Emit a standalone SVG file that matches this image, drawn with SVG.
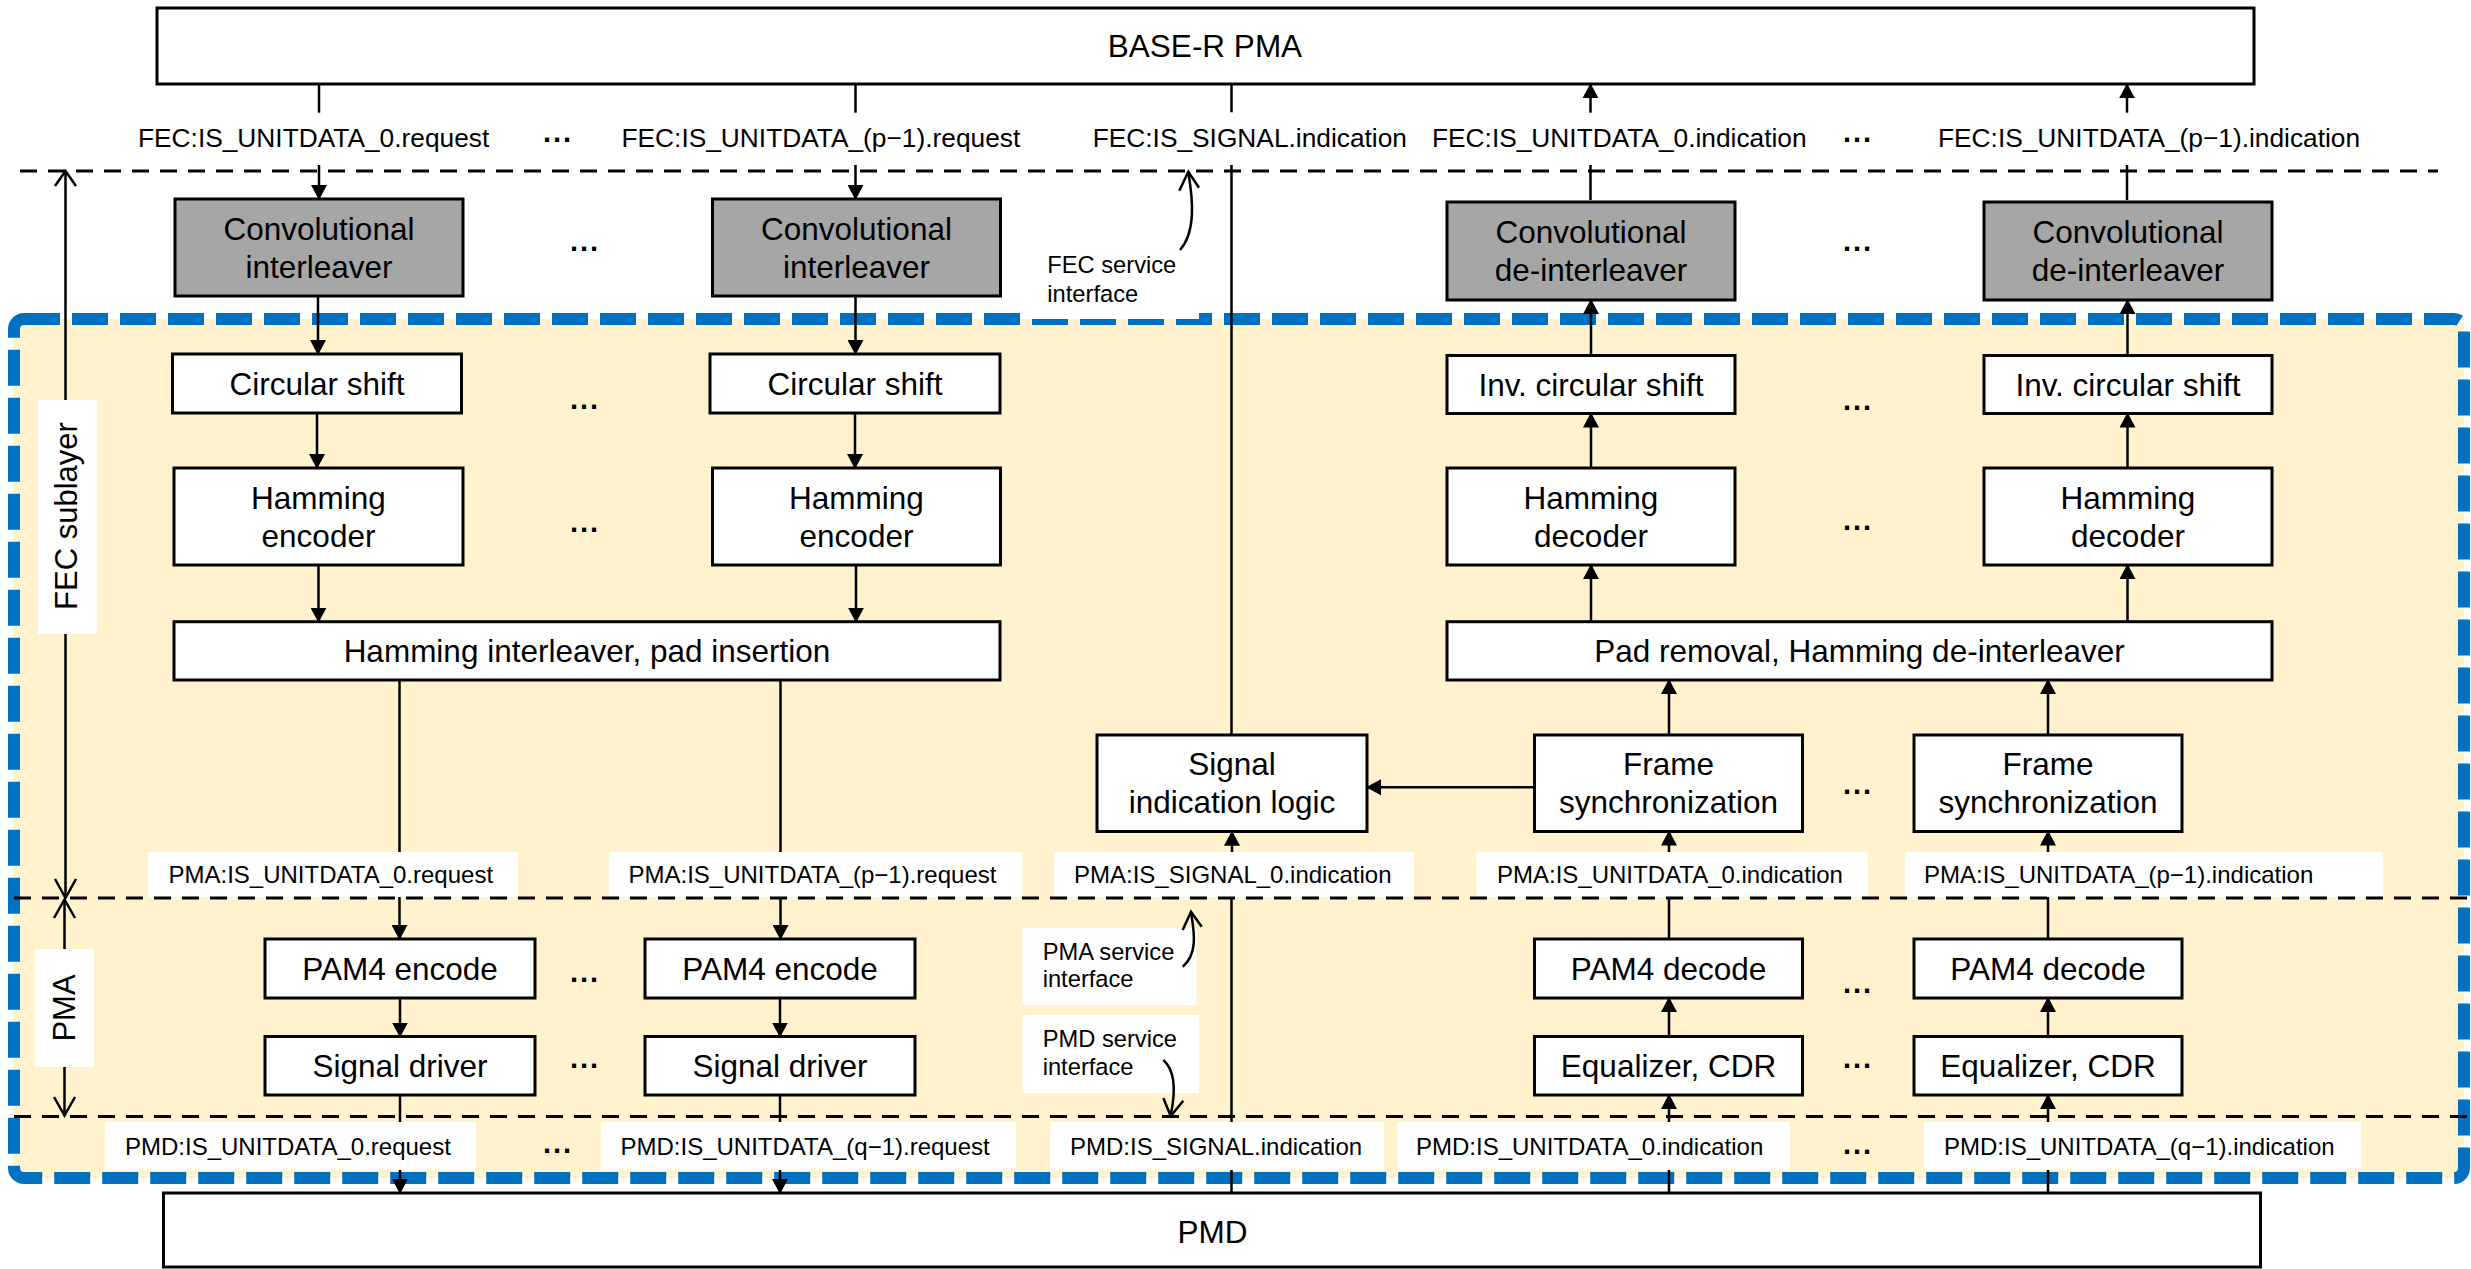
<svg xmlns="http://www.w3.org/2000/svg" width="2471" height="1269" viewBox="0 0 2471 1269">
<defs>
<style>
.box{fill:#fff;stroke:#000;stroke-width:3}
.gbox{fill:#a6a6a6;stroke:#000;stroke-width:3}
text{font-family:"Liberation Sans",Arial,sans-serif;fill:#000}
.t{font-size:31.5px;text-anchor:middle}
.lf{font-size:26.3px}
.lp{font-size:24px}
.si{font-size:23.7px}
.dots{font-size:29px;font-weight:bold;text-anchor:middle;letter-spacing:2px}
.dash{stroke:#000;stroke-width:2.8;stroke-dasharray:17 11;fill:none}
.ln{stroke:#000;stroke-width:2.5;fill:none}
.ar{stroke:#000;stroke-width:2.5;fill:none;marker-end:url(#ah)}
.wl{fill:#fff}
.open{stroke:#000;stroke-width:2.5;fill:none;stroke-linejoin:miter}
</style>
<marker id="ah" markerUnits="userSpaceOnUse" markerWidth="15" markerHeight="16" viewBox="0 0 15 16" refX="14" refY="8" orient="auto">
<path d="M0,0 L15,8 L0,16 z" fill="#000"/>
</marker>
</defs>
<rect width="2471" height="1269" fill="#fff"/>

<!-- blue dashed region -->
<g id="region">
<rect x="14" y="319" width="2450" height="859" rx="10" fill="#fff2cc"/>
<rect x="14" y="319" width="2450" height="859" rx="10" fill="none" stroke="#0070c0" stroke-width="12" stroke-dasharray="36 12"/>
</g>

<!-- white label backgrounds -->
<g id="label-bgs">
<rect class="wl" x="1028" y="250" width="171" height="69"/>
<rect class="wl" x="38" y="400" width="59" height="234"/>
<rect class="wl" x="35" y="949" width="59" height="118"/>
<rect class="wl" x="1022.5" y="928" width="174" height="77"/>
<rect class="wl" x="1022.5" y="1015" width="176.5" height="78"/>
<rect class="wl" x="148" y="852" width="370" height="45"/>
<rect class="wl" x="609" y="852" width="413.5" height="45"/>
<rect class="wl" x="1054" y="852" width="360" height="45"/>
<rect class="wl" x="1476.5" y="852" width="391" height="45"/>
<rect class="wl" x="1905" y="852" width="478" height="45"/>
<rect class="wl" x="105" y="1122" width="371" height="48"/>
<rect class="wl" x="601" y="1122" width="415" height="48"/>
<rect class="wl" x="1050" y="1122" width="334" height="48"/>
<rect class="wl" x="1397.5" y="1122" width="392.5" height="48"/>
<rect class="wl" x="1924" y="1122" width="437" height="48"/>
</g>

<!-- service interface dashed boundaries -->
<g id="boundaries">
<line class="dash" x1="20" y1="171" x2="2438" y2="171"/>
<line class="dash" x1="14" y1="898" x2="2470" y2="898"/>
<line class="dash" x1="14" y1="1116.5" x2="2470" y2="1116.5"/>
</g>

<!-- connectors -->
<g id="connectors">
<path class="ln" d="M319,84.3 V112.7"/>
<path class="ar" d="M319,165 V199"/>
<path class="ar" d="M318,296 V354"/>
<path class="ar" d="M317,413 V468"/>
<path class="ar" d="M318.5,565 V621.7"/>
<path class="ln" d="M855.5,84.3 V112.7"/>
<path class="ar" d="M855.5,165 V199"/>
<path class="ar" d="M855.5,296 V354"/>
<path class="ar" d="M855,413 V468"/>
<path class="ar" d="M856,565 V621.7"/>
<path class="ln" d="M399.5,680 V852"/>
<path class="ar" d="M399.5,897 V939"/>
<path class="ln" d="M780.5,680 V852"/>
<path class="ar" d="M780.5,897 V939"/>
<path class="ar" d="M400,998 V1036.5"/>
<path class="ar" d="M780,998 V1036.5"/>
<path class="ln" d="M400,1095 V1122"/>
<path class="ar" d="M400,1170 V1193"/>
<path class="ln" d="M780,1095 V1122"/>
<path class="ar" d="M780,1170 V1193"/>
<path class="ln" d="M1590.5,200 V165"/>
<path class="ar" d="M1590.5,112.7 V84.3"/>
<path class="ar" d="M1591,355.5 V300"/>
<path class="ar" d="M1591,468 V413.5"/>
<path class="ar" d="M1591,621.7 V565"/>
<path class="ln" d="M2127,200 V165"/>
<path class="ar" d="M2127,112.7 V84.3"/>
<path class="ar" d="M2127.5,355.5 V300"/>
<path class="ar" d="M2127.5,468 V413.5"/>
<path class="ar" d="M2127.5,621.7 V565"/>
<path class="ar" d="M1669,735 V680"/>
<path class="ar" d="M2048,735 V680"/>
<path class="ar" d="M1669,852 V831.5"/>
<path class="ar" d="M2048,852 V831.5"/>
<path class="ln" d="M1669,939 V897"/>
<path class="ln" d="M2048,939 V897"/>
<path class="ar" d="M1669,1036.5 V998"/>
<path class="ar" d="M2048,1036.5 V998"/>
<path class="ln" d="M1669,1193 V1170"/>
<path class="ar" d="M1669,1122 V1095"/>
<path class="ln" d="M2048,1193 V1170"/>
<path class="ar" d="M2048,1122 V1095"/>
<path class="ln" d="M1231.5,84.3 V112.3"/>
<path class="ln" d="M1231.5,165 V735"/>
<path class="ar" d="M1232,852 V831.7"/>
<path class="ln" d="M1231.5,897 V1122"/>
<path class="ln" d="M1231.5,1170 V1193"/>
<path class="ar" d="M1534.5,787.3 H1367"/>
<path class="ln" d="M65.5,171 V400"/>
<path class="ln" d="M65.5,634 V898"/>
<path class="open" d="M55,186 L65.5,171 L76,186"/>
<path class="open" d="M55,879 L65.5,898 L76,879"/>
<path class="ln" d="M64.5,899 V949"/>
<path class="ln" d="M64.5,1067 V1116"/>
<path class="open" d="M54,918 L64.5,899.5 L75,918"/>
<path class="open" d="M54,1097 L64.5,1115.5 L75,1097"/>
<path class="ln" d="M1180,250 C1196,232 1193,200 1188.3,172.5"/>
<path class="open" d="M1179.3,190.7 L1188.3,171.7 L1199,187.7"/>
<path class="ln" d="M1182.7,966.7 C1197,955 1195,935 1191,912.5"/>
<path class="open" d="M1182.7,930 L1191,911.7 L1201.7,926.7"/>
<path class="ln" d="M1163.3,1060 C1177,1072 1175,1095 1170.7,1115"/>
<path class="open" d="M1163.3,1098 L1170.7,1116 L1183.3,1100.7"/>
</g>

<!-- nodes -->
<g id="base-r-pma"><rect class="box" x="157" y="8" width="2097" height="76"/><text class="t" x="1205" y="57">BASE-R PMA</text></g>
<g id="pmd"><rect class="box" x="163.5" y="1193" width="2097" height="74"/><text class="t" x="1212.5" y="1243">PMD</text></g>

<g id="conv-int-0"><rect class="gbox" x="175" y="199" width="288" height="97"/><text class="t" x="319" y="240">Convolutional</text><text class="t" x="319" y="278">interleaver</text></g>
<g id="conv-int-p1"><rect class="gbox" x="712.5" y="199" width="288" height="97"/><text class="t" x="856.5" y="240">Convolutional</text><text class="t" x="856.5" y="278">interleaver</text></g>
<g id="conv-deint-0"><rect class="gbox" x="1447" y="202" width="288" height="98"/><text class="t" x="1591" y="243">Convolutional</text><text class="t" x="1591" y="281">de-interleaver</text></g>
<g id="conv-deint-p1"><rect class="gbox" x="1984" y="202" width="288" height="98"/><text class="t" x="2128" y="243">Convolutional</text><text class="t" x="2128" y="281">de-interleaver</text></g>

<g id="circ-0"><rect class="box" x="172.5" y="354" width="289" height="59"/><text class="t" x="317" y="395">Circular shift</text></g>
<g id="circ-p1"><rect class="box" x="710" y="354" width="290" height="59"/><text class="t" x="855" y="395">Circular shift</text></g>
<g id="invcirc-0"><rect class="box" x="1447" y="355.5" width="288" height="58"/><text class="t" x="1591" y="396">Inv. circular shift</text></g>
<g id="invcirc-p1"><rect class="box" x="1984" y="355.5" width="288" height="58"/><text class="t" x="2128" y="396">Inv. circular shift</text></g>

<g id="hamenc-0"><rect class="box" x="174" y="468" width="289" height="97"/><text class="t" x="318.5" y="509">Hamming</text><text class="t" x="318.5" y="547">encoder</text></g>
<g id="hamenc-p1"><rect class="box" x="712.5" y="468" width="288" height="97"/><text class="t" x="856.5" y="509">Hamming</text><text class="t" x="856.5" y="547">encoder</text></g>
<g id="hamdec-0"><rect class="box" x="1447" y="468" width="288" height="97"/><text class="t" x="1591" y="509">Hamming</text><text class="t" x="1591" y="547">decoder</text></g>
<g id="hamdec-p1"><rect class="box" x="1984" y="468" width="288" height="97"/><text class="t" x="2128" y="509">Hamming</text><text class="t" x="2128" y="547">decoder</text></g>

<g id="ham-interleaver"><rect class="box" x="174" y="621.7" width="826" height="58.3"/><text class="t" x="587" y="662">Hamming interleaver, pad insertion</text></g>
<g id="pad-removal"><rect class="box" x="1447" y="621.7" width="825" height="58.3"/><text class="t" x="1859.5" y="662">Pad removal, Hamming de-interleaver</text></g>

<g id="signal-logic"><rect class="box" x="1097" y="735" width="270" height="96.5"/><text class="t" x="1232" y="775">Signal</text><text class="t" x="1232" y="813">indication logic</text></g>
<g id="framesync-0"><rect class="box" x="1534.5" y="735" width="268" height="96.5"/><text class="t" x="1668.5" y="775">Frame</text><text class="t" x="1668.5" y="813">synchronization</text></g>
<g id="framesync-p1"><rect class="box" x="1914" y="735" width="268" height="96.5"/><text class="t" x="2048" y="775">Frame</text><text class="t" x="2048" y="813">synchronization</text></g>

<g id="pam4enc-0"><rect class="box" x="265" y="939" width="270" height="59"/><text class="t" x="400" y="980">PAM4 encode</text></g>
<g id="pam4enc-q1"><rect class="box" x="645" y="939" width="270" height="59"/><text class="t" x="780" y="980">PAM4 encode</text></g>
<g id="pam4dec-0"><rect class="box" x="1534.5" y="939" width="268" height="59"/><text class="t" x="1668.5" y="980">PAM4 decode</text></g>
<g id="pam4dec-q1"><rect class="box" x="1914" y="939" width="268" height="59"/><text class="t" x="2048" y="980">PAM4 decode</text></g>

<g id="driver-0"><rect class="box" x="265" y="1036.5" width="270" height="58.5"/><text class="t" x="400" y="1077">Signal driver</text></g>
<g id="driver-q1"><rect class="box" x="645" y="1036.5" width="270" height="58.5"/><text class="t" x="780" y="1077">Signal driver</text></g>
<g id="eq-0"><rect class="box" x="1534.5" y="1036.5" width="268" height="58.5"/><text class="t" x="1668.5" y="1077">Equalizer, CDR</text></g>
<g id="eq-q1"><rect class="box" x="1914" y="1036.5" width="268" height="58.5"/><text class="t" x="2048" y="1077">Equalizer, CDR</text></g>

<!-- labels -->
<g id="labels">
<text class="lf" x="138" y="147">FEC:IS_UNITDATA_0.request</text>
<text class="lf" x="621.5" y="147">FEC:IS_UNITDATA_(p−1).request</text>
<text class="lf" x="1092.7" y="147">FEC:IS_SIGNAL.indication</text>
<text class="lf" x="1432" y="147">FEC:IS_UNITDATA_0.indication</text>
<text class="lf" x="1938" y="147">FEC:IS_UNITDATA_(p−1).indication</text>

<text class="lp" x="168.5" y="883">PMA:IS_UNITDATA_0.request</text>
<text class="lp" x="628.5" y="883">PMA:IS_UNITDATA_(p−1).request</text>
<text class="lp" x="1074" y="883">PMA:IS_SIGNAL_0.indication</text>
<text class="lp" x="1497" y="883">PMA:IS_UNITDATA_0.indication</text>
<text class="lp" x="1924" y="883">PMA:IS_UNITDATA_(p−1).indication</text>

<text class="lp" x="125" y="1155">PMD:IS_UNITDATA_0.request</text>
<text class="lp" x="620.5" y="1155">PMD:IS_UNITDATA_(q−1).request</text>
<text class="lp" x="1070" y="1155">PMD:IS_SIGNAL.indication</text>
<text class="lp" x="1416" y="1155">PMD:IS_UNITDATA_0.indication</text>
<text class="lp" x="1944" y="1155">PMD:IS_UNITDATA_(q−1).indication</text>

<text class="si" x="1047.3" y="273.3">FEC service</text>
<text class="si" x="1047.3" y="301.7">interface</text>
<text class="si" x="1042.7" y="960">PMA service</text>
<text class="si" x="1042.7" y="987.3">interface</text>
<text class="si" x="1042.7" y="1047.3">PMD service</text>
<text class="si" x="1042.7" y="1075">interface</text>

<text style="font-size:31px;text-anchor:middle" transform="translate(77,516) rotate(-90)">FEC sublayer</text>
<text style="font-size:31px;text-anchor:middle" transform="translate(75,1008) rotate(-90)">PMA</text>
</g>

<!-- ellipses -->
<g id="ellipses">
<text class="dots" x="558" y="142">...</text>
<text class="dots" x="1858" y="142">...</text>
<text class="dots" x="585" y="251">...</text>
<text class="dots" x="1858" y="251">...</text>
<text class="dots" x="585" y="409">...</text>
<text class="dots" x="1858" y="410">...</text>
<text class="dots" x="585" y="532">...</text>
<text class="dots" x="1858" y="530">...</text>
<text class="dots" x="1858" y="794">...</text>
<text class="dots" x="585" y="982">...</text>
<text class="dots" x="1858" y="993">...</text>
<text class="dots" x="585" y="1068">...</text>
<text class="dots" x="1858" y="1068">...</text>
<text class="dots" x="558" y="1153">...</text>
<text class="dots" x="1858" y="1154">...</text>
</g>
</svg>
